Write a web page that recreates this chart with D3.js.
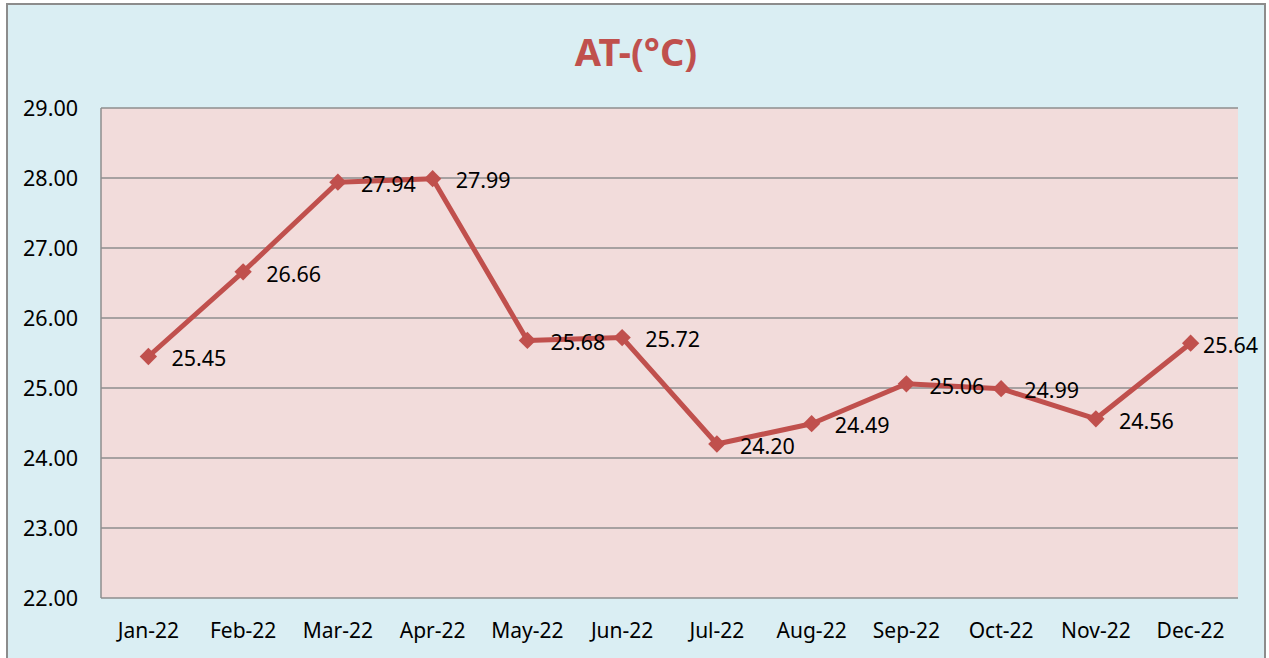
<!DOCTYPE html>
<html>
<head>
<meta charset="utf-8">
<script src="https://cdn.jsdelivr.net/npm/d3@7"></script>
<style>
  body { margin: 0; background: #fff; }
  svg { display: block; font-family: "Noto Sans", "Open Sans", sans-serif; }
</style>
</head>
<body>
<svg width="1269" height="658"></svg>
<script>
var months = ["Jan-22", "Feb-22", "Mar-22", "Apr-22", "May-22", "Jun-22",
              "Jul-22", "Aug-22", "Sep-22", "Oct-22", "Nov-22", "Dec-22"];
var temps = [25.45, 26.66, 27.94, 27.99, 25.68, 25.72, 24.20, 24.49, 25.06, 24.99, 24.56, 25.64];
var yTicks = [22, 23, 24, 25, 26, 27, 28, 29];

var svg = d3.select("svg");
var red = "#C0504D";

// outer chart frame
svg.append("rect")
    .attr("x", 7).attr("y", 4)
    .attr("width", 1258).attr("height", 670)
    .attr("fill", "#DAEEF3")
    .attr("stroke", "#8C8C8C")
    .attr("stroke-width", 2);

// plot box (note: "top" is reserved on window, so use plot* names)
var plotL = 101, plotR = 1238, plotT = 108, plotB = 598;

var x = d3.scaleBand().domain(months).range([plotL, plotR]);
var y = d3.scaleLinear().domain([22, 29]).range([plotB, plotT]);

svg.append("rect")
    .attr("x", plotL).attr("y", plotT)
    .attr("width", plotR - plotL).attr("height", plotB - plotT)
    .attr("fill", "#F2DCDB");

// gridlines
svg.append("g")
    .selectAll("line")
    .data(yTicks)
  .enter().append("line")
    .attr("x1", plotL).attr("x2", plotR)
    .attr("y1", function(d) { return y(d); })
    .attr("y2", function(d) { return y(d); })
    .attr("stroke", "#8E8E8E")
    .attr("stroke-width", 1.5);

svg.append("line")
    .attr("x1", plotL).attr("x2", plotL)
    .attr("y1", plotT).attr("y2", plotB)
    .attr("stroke", "#8E8E8E")
    .attr("stroke-width", 1.5);

// y axis labels
svg.append("g")
    .selectAll("text")
    .data(yTicks)
  .enter().append("text")
    .attr("x", 78)
    .attr("y", function(d) { return y(d); })
    .attr("dy", "0.36em")
    .attr("text-anchor", "end")
    .attr("font-size", 21.5)
    .attr("fill", "#000")
    .text(function(d) { return d.toFixed(2); });

// x axis labels
svg.append("g")
    .selectAll("text")
    .data(months)
  .enter().append("text")
    .attr("x", function(d) { return x(d) + x.bandwidth() / 2; })
    .attr("y", 630)
    .attr("dy", "0.36em")
    .attr("text-anchor", "middle")
    .attr("font-size", 21)
    .attr("fill", "#000")
    .text(function(d) { return d; });

// title
svg.append("text")
    .attr("x", 636).attr("y", 52)
    .attr("dy", "0.36em")
    .attr("text-anchor", "middle")
    .attr("font-size", 38)
    .attr("font-weight", "bold")
    .attr("fill", red)
    .text("AT-(°C)");

var pts = months.map(function(m, i) { return {m: m, v: temps[i]}; });

var line = d3.line()
    .x(function(d) { return x(d.m) + x.bandwidth() / 2; })
    .y(function(d) { return y(d.v); });

svg.append("path")
    .datum(pts)
    .attr("d", line)
    .attr("fill", "none")
    .attr("stroke", red)
    .attr("stroke-width", 5)
    .attr("stroke-linejoin", "round");

svg.append("g")
    .selectAll("path")
    .data(pts)
  .enter().append("path")
    .attr("d", d3.symbol().type(d3.symbolSquare).size(150))
    .attr("transform", function(d) {
        return "translate(" + (x(d.m) + x.bandwidth() / 2) + "," + y(d.v) + ") rotate(45)";
    })
    .attr("fill", red);

// data labels, pushed back inside the frame if they would run past it
svg.append("g")
    .selectAll("text")
    .data(pts)
  .enter().append("text")
    .attr("y", function(d) { return y(d.v) + 2; })
    .attr("dy", "0.36em")
    .attr("font-size", 21.5)
    .attr("fill", "#000")
    .text(function(d) { return d.v.toFixed(2); })
    .attr("x", function(d) {
        var lx = x(d.m) + x.bandwidth() / 2 + 23;
        var w = this.getComputedTextLength();
        return Math.min(lx, 1258 - w);
    });
</script>
</body>
</html>
